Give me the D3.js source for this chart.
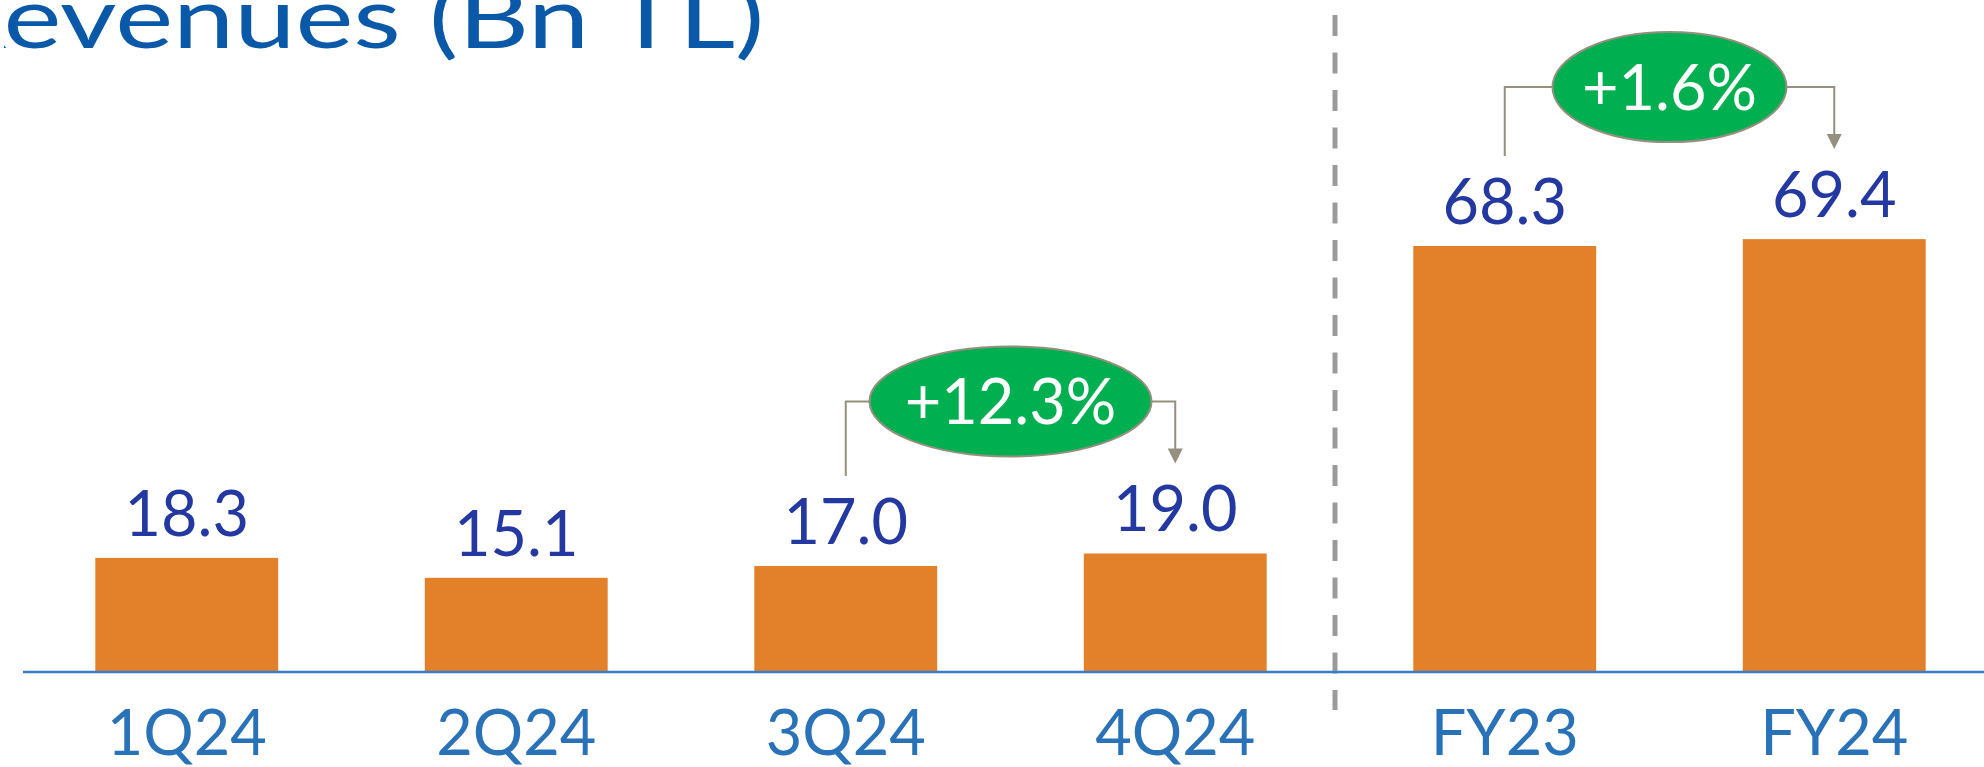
<!DOCTYPE html>
<html><head><meta charset="utf-8">
<script src="https://cdn.jsdelivr.net/npm/d3@7"></script>
<style>html,body{margin:0;padding:0;background:#fff;overflow:hidden}</style>
</head><body><svg id="chart" width="1984" height="767"></svg>
<script>
// ---- data ----
const categories = ["1Q24", "2Q24", "3Q24", "4Q24", "FY23", "FY24"];
const values = [18.3, 15.1, 17.0, 19.0, 68.3, 69.4];
const valueLabels = ["18.3", "15.1", "17.0", "19.0", "68.3", "69.4"];
const growthFrom = ["3Q24", "FY23"];
const growthTo = ["4Q24", "FY24"];
const growthLabels = ["+12.3%", "+1.6%"];
const titleText = "Revenues (Bn TL)";

// ---- layout ----
const W = 1984, H = 767;
const FONT = "Lato, 'Open Sans', sans-serif";
const WEIGHT = 400;
const svg = d3.select("#chart");

const x = d3.scaleBand().domain(categories).range([22, 1999])
  .paddingInner(0.445).paddingOuter(0.2225);
const y = d3.scaleLinear().domain([0, 80]).range([672, 173]);
const bw = x.bandwidth();
const cx = c => x(c) + bw / 2;

// title (first letter clipped off the left edge as in the reference)
svg.append("defs").append("clipPath").attr("id", "titleClip")
  .append("rect").attr("x", 4).attr("y", -20).attr("width", 1000).attr("height", 120);
(function () {
  const fs = 85;
  const mk = s => svg.append("text").attr("font-family", FONT).attr("font-weight", WEIGHT)
    .attr("font-size", fs).text(s);
  const tmp1 = mk(titleText.slice(0, 1)), tmp2 = mk(titleText.slice(1));
  const wR = tmp1.node().getComputedTextLength();
  const wRest = tmp2.node().getComputedTextLength();
  tmp1.remove(); tmp2.remove();
  const sx = 761 / wRest;
  svg.append("g").attr("clip-path", "url(#titleClip)")
    .append("g").attr("transform", `translate(${7 - wR * sx},48) scale(${sx},1)`)
    .append("text").attr("font-family", FONT).attr("font-weight", WEIGHT).attr("font-size", fs)
    .attr("fill", "#0a58a8").text(titleText);
})();

// divider
const divX = (x("4Q24") + bw + x("FY23")) / 2 - 5;
svg.append("line").attr("x1", divX).attr("x2", divX).attr("y1", 15).attr("y2", 710)
  .attr("stroke", "#9b9b9b").attr("stroke-width", 5).attr("stroke-dasharray", "21 16.5");

// bars
svg.append("g").selectAll("rect").data(categories).join("rect")
  .attr("x", d => x(d)).attr("width", bw)
  .attr("y", (d, i) => y(values[i])).attr("height", (d, i) => y(0) - y(values[i]))
  .attr("fill", "#e3812a");

// axis
const axis = svg.append("g").attr("transform", `translate(0,${y(0)})`)
  .call(d3.axisBottom(x).tickSize(0).tickPadding(0));
axis.select(".domain").attr("stroke", "#3a7dc6").attr("stroke-width", 2.5)
  .attr("d", `M23,0H${W}`);
axis.selectAll(".tick text").attr("y", 83).attr("dy", null)
  .attr("font-family", FONT).attr("font-weight", WEIGHT).attr("font-size", 63).attr("fill", "#2a72b8");

// value labels
svg.append("g").selectAll("text").data(categories).join("text")
  .attr("x", d => cx(d)).attr("y", (d, i) => y(values[i]) - 22)
  .attr("text-anchor", "middle").attr("font-family", FONT).attr("font-weight", WEIGHT)
  .attr("font-size", 63).attr("fill", "#2338a0").text((d, i) => valueLabels[i]);

// growth annotations
const gcol = "#948f7e";
growthLabels.forEach((lab, k) => {
  const a = growthFrom[k], b = growthTo[k];
  const ia = categories.indexOf(a), ib = categories.indexOf(b);
  const xa = cx(a), xb = cx(b);
  const topY = Math.min(y(values[ia]), y(values[ib]));
  const cy = topY - 152;
  const ex = (xa + xb) / 2;
  const g = svg.append("g");
  g.append("text").attr("x", ex).attr("y", cy + 23)
    .attr("text-anchor", "middle").attr("font-family", FONT).attr("font-weight", WEIGHT)
    .attr("font-size", 63).attr("fill", "#ffffff").text(lab);
  const rx = k === 0 ? 141 : 117;
  const ry = 55;
  g.insert("path", "text").attr("fill", "none").attr("stroke", gcol).attr("stroke-width", 2)
    .attr("d", `M${xa},${y(values[ia]) - 90}V${cy}H${ex - rx}M${ex + rx},${cy}H${xb}V${y(values[ib]) - 104}`);
  g.insert("path", "text").attr("fill", gcol)
    .attr("d", `M${xb - 7.5},${y(values[ib]) - 105}H${xb + 7.5}L${xb},${y(values[ib]) - 90}Z`);
  g.insert("ellipse", "text").attr("cx", ex).attr("cy", cy).attr("rx", rx).attr("ry", ry)
    .attr("fill", "#00b050").attr("stroke", gcol).attr("stroke-width", 2);
});
</script></body></html>
